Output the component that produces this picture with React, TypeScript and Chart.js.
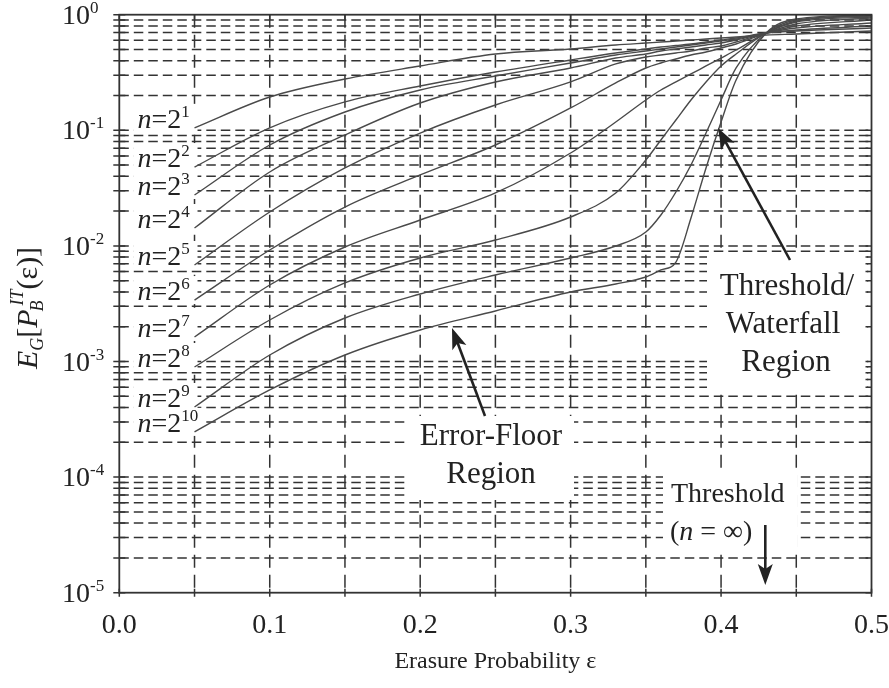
import React, { useEffect, useRef } from 'react';
import { Chart, registerables } from 'chart.js';

Chart.register(...registerables);

const FONT = '"Liberation Serif", "DejaVu Serif", serif';

// ---- data ----
const epsilon = [0.05, 0.1, 0.15, 0.2, 0.25, 0.3, 0.33, 0.35, 0.36, 0.37, 0.38, 0.39, 0.4, 0.41, 0.43, 0.45, 0.5];

const codeExponents = [1, 2, 3, 4, 5, 6, 7, 8, 9, 10];

const pbN2 = [0.105, 0.194, 0.278, 0.36, 0.457, 0.505, 0.547, 0.569, 0.58, 0.592, 0.604, 0.616, 0.629, 0.641, 0.667, 0.681, 0.723];
const pbN4 = [0.0481, 0.105, 0.176, 0.2416, 0.319, 0.406, 0.466, 0.505, 0.526, 0.541, 0.558, 0.58, 0.604, 0.629, 0.695, 0.723, 0.767];
const pbN8 = [0.02756, 0.0746, 0.144, 0.2232, 0.295, 0.382, 0.448, 0.485, 0.505, 0.526, 0.547, 0.569, 0.592, 0.616, 0.695, 0.737, 0.798];
const pbN16 = [0.01428, 0.0436, 0.0911, 0.1722, 0.262, 0.346, 0.422, 0.457, 0.485, 0.505, 0.526, 0.547, 0.569, 0.604, 0.695, 0.767, 0.848];
const pbN32 = [0.00684, 0.01964, 0.0472, 0.0947, 0.1655, 0.262, 0.375, 0.431, 0.448, 0.466, 0.485, 0.515, 0.536, 0.58, 0.695, 0.798, 0.9];
const pbN64 = [0.0034, 0.00922, 0.0217, 0.0411, 0.0746, 0.156, 0.2566, 0.346, 0.382, 0.414, 0.448, 0.476, 0.515, 0.558, 0.695, 0.831, 0.936];
const pbN128 = [0.00163, 0.00459, 0.00978, 0.01675, 0.0287, 0.0636, 0.118, 0.183, 0.2232, 0.262, 0.307, 0.36, 0.422, 0.495, 0.695, 0.865, 0.955];
const pbN256 = [0.000896, 0.002286, 0.00478, 0.00786, 0.01125, 0.01778, 0.0287, 0.0553, 0.0825, 0.1228, 0.183, 0.262, 0.36, 0.457, 0.695, 0.882, 0.974];
const pbN512 = [0.000404, 0.001138, 0.002378, 0.003836, 0.0056, 0.00786, 0.00998, 0.01319, 0.0185, 0.02926, 0.0501, 0.0947, 0.183, 0.346, 0.695, 0.9, 0.984];
const pbN1024 = [0.000246, 0.000567, 0.001138, 0.001873, 0.002734, 0.003993, 0.004682, 0.005383, 0.00619, 0.007255, 0.01743, 0.0472, 0.118, 0.2723, 0.695, 0.918, 0.994];

const seriesValues = [pbN2, pbN4, pbN8, pbN16, pbN32, pbN64, pbN128, pbN256, pbN512, pbN1024];

const xGridValues = [0.05, 0.1, 0.15, 0.2, 0.25, 0.3, 0.35, 0.4, 0.45];
const xTickValues = [0, 0.1, 0.2, 0.3, 0.4, 0.5];
const xTickLabels = ['0.0', '0.1', '0.2', '0.3', '0.4', '0.5'];
const yTickExponents = [0, -1, -2, -3, -4, -5];
const yMinorMantissas = [1, 2, 3, 4, 5, 6, 7, 8, 9];
const thresholdEps = 0.4294;

type Run = { t: string; f: string; dy?: number };

function runsWidth(ctx: CanvasRenderingContext2D, runs: Run[]) {
  let w = 0;
  for (const r of runs) {
    ctx.font = r.f;
    w += ctx.measureText(r.t).width;
  }
  return w;
}

function drawRuns(ctx: CanvasRenderingContext2D, x: number, baseline: number, runs: Run[]) {
  let cx = x;
  for (const r of runs) {
    ctx.font = r.f;
    ctx.fillText(r.t, cx, baseline + (r.dy || 0));
    cx += ctx.measureText(r.t).width;
  }
  return cx - x;
}

function arrow(ctx: CanvasRenderingContext2D, x1: number, y1: number, x2: number, y2: number) {
  const ang = Math.atan2(y2 - y1, x2 - x1);
  const hl = 21;
  const hw = 7.5;
  const bx = x2 - hl * Math.cos(ang);
  const by = y2 - hl * Math.sin(ang);
  ctx.beginPath();
  ctx.moveTo(x1, y1);
  ctx.lineTo(bx + 6 * Math.cos(ang), by + 6 * Math.sin(ang));
  ctx.stroke();
  ctx.beginPath();
  ctx.moveTo(x2, y2);
  ctx.lineTo(bx - hw * Math.sin(ang), by + hw * Math.cos(ang));
  ctx.lineTo(bx + 5 * Math.cos(ang), by + 5 * Math.sin(ang));
  ctx.lineTo(bx + hw * Math.sin(ang), by - hw * Math.cos(ang));
  ctx.closePath();
  ctx.fill();
}

function labelRuns(k: number): Run[] {
  return [
    { t: 'n', f: `italic 28px ${FONT}` },
    { t: '=2', f: `28px ${FONT}` },
    { t: String(k), f: `17px ${FONT}`, dy: -11 },
  ];
}

const paperPlugin = {
  id: 'paper',
  beforeDatasetsDraw(chart: any) {
    const { ctx, chartArea: a, scales } = chart;
    const px = (v: number) => scales.x.getPixelForValue(v);
    const py = (v: number) => scales.y.getPixelForValue(v);
    ctx.save();
    ctx.fillStyle = '#fff';
    ctx.fillRect(0, 0, chart.width, chart.height);
    // dashed grid
    ctx.strokeStyle = '#333';
    ctx.lineWidth = 1.5;
    ctx.setLineDash([9.5, 5]);
    for (const e of [-5, -4, -3, -2, -1]) {
      for (const m of yMinorMantissas) {
        if (e === -5 && m === 1) continue;
        const yy = py(m * Math.pow(10, e));
        ctx.beginPath();
        ctx.moveTo(a.left, yy);
        ctx.lineTo(a.right, yy);
        ctx.stroke();
      }
    }
    ctx.setLineDash([13, 7]);
    for (const g of xGridValues) {
      const xx = px(g);
      ctx.beginPath();
      ctx.moveTo(xx, a.top);
      ctx.lineTo(xx, a.bottom);
      ctx.stroke();
    }
    ctx.setLineDash([]);
    // white boxes behind curve labels
    ctx.fillStyle = '#fff';
    const lx = px(epsilon[0]) - 57;
    seriesValues.forEach((s, i) => {
      const b = py(s[0]);
      const w = runsWidth(ctx, labelRuns(codeExponents[i]));
      ctx.fillRect(lx - 4, b - 24, Math.max(w + 8, px(epsilon[0]) + 3 - lx + 4), 28);
    });
    // annotation boxes
    ctx.fillRect(707, 252, 160, 136);
    ctx.fillRect(408, 416, 166, 84);
    ctx.fillRect(663, 470, 134, 82);
    ctx.restore();
  },
  afterDatasetsDraw(chart: any) {
    const { ctx, chartArea: a, scales } = chart;
    const px = (v: number) => scales.x.getPixelForValue(v);
    const py = (v: number) => scales.y.getPixelForValue(v);
    ctx.save();
    // frame
    ctx.strokeStyle = '#333';
    ctx.lineWidth = 1.8;
    ctx.strokeRect(a.left, a.top, a.right - a.left, a.bottom - a.top);
    // ticks
    ctx.lineWidth = 1.5;
    for (const e of [-5, -4, -3, -2, -1, 0]) {
      for (const m of yMinorMantissas) {
        if (e === 0 && m > 1) continue;
        const yy = py(m * Math.pow(10, e));
        ctx.beginPath();
        ctx.moveTo(a.left - 6, yy);
        ctx.lineTo(a.left + 6, yy);
        ctx.moveTo(a.right - 6, yy);
        ctx.lineTo(a.right, yy);
        ctx.stroke();
      }
    }
    for (const g of [0, ...xGridValues, 0.5]) {
      const xx = px(g);
      ctx.beginPath();
      ctx.moveTo(xx, a.bottom - 4);
      ctx.lineTo(xx, a.bottom + 4);
      ctx.moveTo(xx, a.top);
      ctx.lineTo(xx, a.top + 5);
      ctx.stroke();
    }
    ctx.fillStyle = '#222';
    ctx.textBaseline = 'alphabetic';
    // x tick labels
    ctx.textAlign = 'center';
    ctx.font = `28px ${FONT}`;
    xTickValues.forEach((v, i) => ctx.fillText(xTickLabels[i], px(v), 633));
    // y tick labels
    ctx.textAlign = 'left';
    yTickExponents.forEach((e) => {
      const yy = py(Math.pow(10, e));
      drawRuns(ctx, 62, yy + 9, [
        { t: '10', f: `28px ${FONT}` },
        { t: String(e), f: `17px ${FONT}`, dy: -11 },
      ]);
    });
    // x title
    ctx.textAlign = 'center';
    ctx.font = `24px ${FONT}`;
    ctx.fillText('Erasure Probability \u03b5', (a.left + a.right) / 2, 668);
    // y title (rotated)
    ctx.save();
    ctx.translate(37, 308);
    ctx.rotate(-Math.PI / 2);
    ctx.textAlign = 'left';
    const big = `30px ${FONT}`;
    const bigI = `italic 30px ${FONT}`;
    const smI = `italic 18px ${FONT}`;
    const head: Run[] = [
      { t: 'E', f: bigI },
      { t: 'G', f: smI, dy: 6 },
      { t: '[', f: big },
      { t: 'P', f: bigI },
    ];
    ctx.font = smI;
    const wB = ctx.measureText('B').width;
    const wIT = ctx.measureText('IT').width + 4;
    const tail: Run[] = [{ t: '(\u03b5)]', f: big }];
    const total = runsWidth(ctx, head) + Math.max(wB, wIT) + runsWidth(ctx, tail);
    let cx = -total / 2;
    cx += drawRuns(ctx, cx, 0, head);
    ctx.font = smI;
    ctx.fillText('B', cx - 2, 6);
    ctx.fillText('IT', cx + 4, -14);
    cx += Math.max(wB, wIT);
    drawRuns(ctx, cx, 0, tail);
    ctx.restore();
    // curve labels
    ctx.textAlign = 'left';
    const lx = px(epsilon[0]) - 57;
    seriesValues.forEach((s, i) => {
      drawRuns(ctx, lx, py(s[0]), labelRuns(codeExponents[i]));
    });
    // annotations
    ctx.textAlign = 'center';
    ctx.font = `31px ${FONT}`;
    ctx.fillText('Threshold/', 787, 295);
    ctx.fillText('Waterfall', 783, 333);
    ctx.fillText('Region', 786, 371);
    ctx.fillText('Error-Floor', 491, 445);
    ctx.fillText('Region', 491, 483);
    ctx.textAlign = 'left';
    ctx.font = `28px ${FONT}`;
    ctx.fillText('Threshold', 671, 502);
    drawRuns(ctx, 670, 540, [
      { t: '(', f: `28px ${FONT}` },
      { t: 'n', f: `italic 28px ${FONT}` },
      { t: ' = \u221e)', f: `28px ${FONT}` },
    ]);
    // arrows
    ctx.strokeStyle = '#222';
    ctx.lineWidth = 2.6;
    arrow(ctx, 790, 260, 718, 128);
    arrow(ctx, 485, 416, 452, 328);
    const tx = px(thresholdEps);
    arrow(ctx, tx, 525, tx, 585);
    ctx.restore();
  },
};

export default function App() {
  const ref = useRef<HTMLCanvasElement | null>(null);
  useEffect(() => {
    if (!ref.current) return;
    const chart = new Chart(ref.current, {
      type: 'line',
      data: {
        datasets: seriesValues.map((s, i) => ({
          label: `n=2^${codeExponents[i]}`,
          data: s.map((v, j) => ({ x: epsilon[j], y: v })),
          borderColor: '#4a4a4a',
          borderWidth: 1.4,
          pointRadius: 0,
          fill: false,
          cubicInterpolationMode: 'monotone' as const,
        })),
      },
      options: {
        animation: false,
        responsive: false,
        devicePixelRatio: 1,
        layout: { padding: { left: 119.3, top: 14.7, right: 17.5, bottom: 95.3 } },
        plugins: { legend: { display: false }, tooltip: { enabled: false } },
        scales: {
          x: { type: 'linear', min: 0, max: 0.5, display: false },
          y: { type: 'logarithmic', min: 1e-5, max: 1, display: false },
        },
      },
      plugins: [paperPlugin],
    });
    return () => chart.destroy();
  }, []);
  return (
    <div style={{ position: 'absolute', left: 0, top: 0, width: 889, height: 688, background: '#fff' }}>
      <canvas ref={ref} width={889} height={688} style={{ width: 889, height: 688 }} />
    </div>
  );
}
